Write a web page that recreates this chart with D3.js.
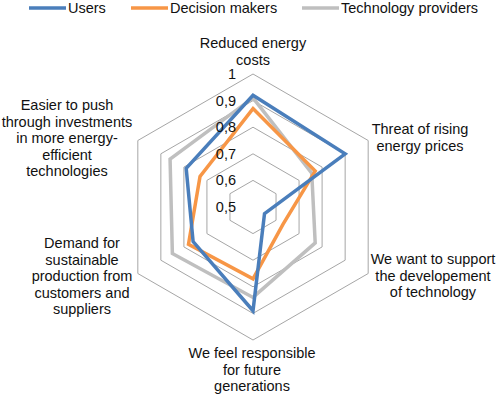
<!DOCTYPE html>
<html lang="en">
<head>
	<meta charset="utf-8">
	<title>Radar chart</title>
	<script type="text/javascript" src="https://d3js.org/d3.v7.min.js"></script>
	<style type="text/css">
		body { margin: 0; background: white; }
		text { font-family: "Liberation Sans", Arial, sans-serif; font-size: 14.5px; fill: #111; }
	</style>
</head>
<body>
	<script type="text/javascript">
		// axes, clockwise from the top
		var axes = [
			["Reduced energy", "costs"],
			["Threat of rising", "energy prices"],
			["We want to support", "the developement", "of technology"],
			["We feel responsible", "for future", "generations"],
			["Demand for", "sustainable", "production from", "customers and", "suppliers"],
			["Easier to push", "through investments", "in more energy-", "efficient", "technologies"]
		];
		var seriesNames = ["Users", "Decision makers", "Technology providers"];
		var users = [0.92, 0.90, 0.55, 0.89, 0.76, 0.79];
		var decisionMakers = [0.87, 0.77, 0.63, 0.77, 0.78, 0.73];
		var techProviders = [0.91, 0.755, 0.77, 0.84, 0.85, 0.86];
		var ticks = [0.5, 0.6, 0.7, 0.8, 0.9, 1];
		var colors = ["#4a7ebb", "#f79646", "#bfbfbf"];

		var width = 498, height = 397;
		var cx = 253, cy = 207, radius = 133;

		var svg = d3.select("body").append("svg")
			.attr("width", width)
			.attr("height", height);

		var r = d3.scaleLinear().domain([0.5, 1]).range([0, radius]);
		var angle = d3.scalePoint().domain(d3.range(axes.length + 1)).range([0, 2 * Math.PI]);

		var g = svg.append("g").attr("transform", "translate(" + cx + "," + cy + ")");

		var radial = d3.lineRadial()
			.angle(function(d, i) { return angle(i % axes.length); })
			.radius(function(d) { return r(d); })
			.curve(d3.curveLinearClosed);

		// grid rings
		g.selectAll(".ring")
			.data(ticks.slice(1))
			.enter().append("path")
			.attr("class", "ring")
			.attr("d", function(t) { return radial(axes.map(function() { return t; })); })
			.attr("fill", "none")
			.attr("stroke", "#a6a6a6")
			.attr("stroke-width", 1);

		// series
		var data = [users, decisionMakers, techProviders];
		g.selectAll(".series")
			.data([2, 1, 0])
			.enter().append("path")
			.attr("class", "series")
			.attr("d", function(k) { return radial(data[k]); })
			.attr("fill", "none")
			.attr("stroke", function(k) { return colors[k]; })
			.attr("stroke-width", 3.5)
			.attr("stroke-linejoin", "miter");

		// tick labels
		g.selectAll(".tick")
			.data(ticks)
			.enter().append("text")
			.attr("class", "tick")
			.attr("x", -17)
			.attr("y", function(t) { return -r(t); })
			.attr("dy", "0.35em")
			.attr("text-anchor", "end")
			.text(function(t) { return String(t).replace(".", ","); });

		// axis labels
		var labelPos = [[253, 43], [420, 129], [433, 259], [252, 353], [82, 243], [67, 105]];
		var lineH = 16.6;
		svg.selectAll(".axis-label")
			.data(axes)
			.enter().append("text")
			.attr("class", "axis-label")
			.attr("text-anchor", "middle")
			.each(function(lines, i) {
				d3.select(this).selectAll("tspan")
					.data(lines)
					.enter().append("tspan")
					.attr("x", labelPos[i][0])
					.attr("y", function(d, j) { return labelPos[i][1] + j * lineH; })
					.attr("dy", "0.35em")
					.text(function(d) { return d; });
			});

		// legend
		var legendX = [29, 131, 302];
		var legend = svg.selectAll(".legend")
			.data(seriesNames)
			.enter().append("g")
			.attr("class", "legend")
			.attr("transform", function(d, i) { return "translate(" + legendX[i] + ",8)"; });
		legend.append("line")
			.attr("x1", 0).attr("x2", 37)
			.attr("stroke", function(d, i) { return colors[i]; })
			.attr("stroke-width", 3.5);
		legend.append("text")
			.attr("x", 39)
			.attr("dy", "0.35em")
			.text(function(d) { return d; });
	</script>
</body>
</html>
